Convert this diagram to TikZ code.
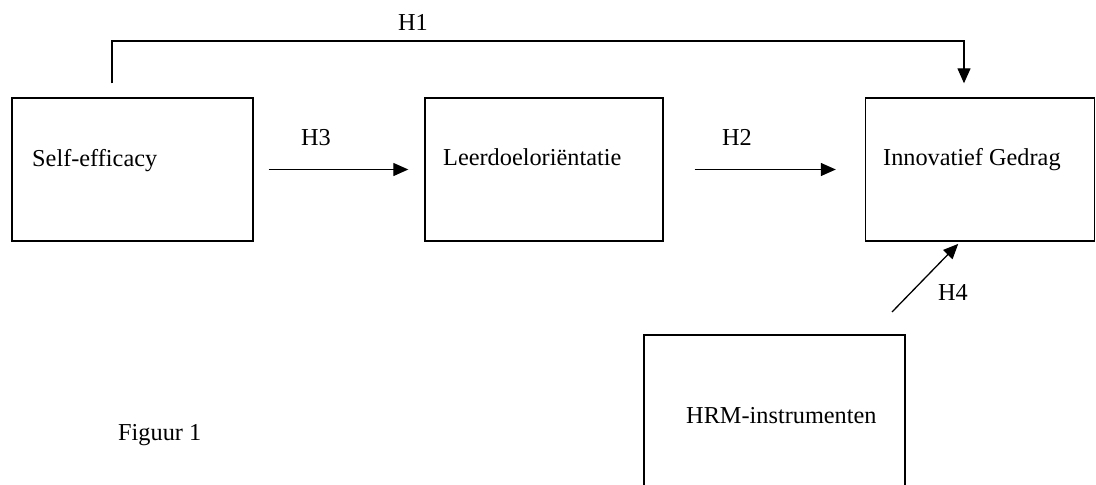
\documentclass[tikz,border=0pt]{standalone}
\usepackage{fontspec}
\setmainfont{Liberation Serif}
\usetikzlibrary{arrows.meta}
\begin{document}
\begin{tikzpicture}[x=1pt,y=-1pt,
  box/.style={draw,line width=1.4pt,inner sep=0pt},
  lbl/.style={anchor=base west,inner sep=0pt,font=\fontsize{24.3}{28}\selectfont},
  hlbl/.style={anchor=base,inner sep=0pt,font=\fontsize{24.3}{28}\selectfont},
  conn/.style={line width=1.3pt,-{Triangle[length=15pt,width=13pt]}}]
\useasboundingbox (0,0) rectangle (1096,485);
\clip (0,0) rectangle (1096,485);
% boxes
\node[box,minimum width=241pt,minimum height=143pt] (b1) at (132.5,169.5) {};
\node[box,minimum width=238pt,minimum height=143pt] (b2) at (544,169.5) {};
\node[box,minimum width=229pt,minimum height=143pt] (b3) at (980,169.5) {};
\node[box,minimum width=261pt,minimum height=200pt] (b4) at (774.5,435) {};
% texts
\node[lbl] (t1) at (32,166) {Self-efficacy};
\node[lbl] (t2) at (443,165) {Leerdoeloriëntatie};
\node[lbl] (t3) at (883,165) {Innovatief Gedrag};
\node[lbl] (t4) at (686,423) {HRM-instrumenten};
\node[lbl] (fig) at (118,440) {Figuur 1};
% hypothesis labels
\node[hlbl] (h1) at (413,30) {H1};
\node[hlbl] (h3) at (316,145) {H3};
\node[hlbl] (h2) at (737,145) {H2};
\node[hlbl] (h4) at (953,300) {H4};
% connectors
\coordinate (h1a) at (112,41);
\coordinate (h1b) at (964,41);
\draw[conn,shorten <=14pt,shorten >=14pt] (b1.north -| h1a) -- (h1a) -- (h1b) -- (b3.north -| h1b);
\draw[conn,shorten <=15pt,shorten >=16pt] (b1.east) -- (b2.west);
\draw[conn,shorten <=31pt,shorten >=29pt] (b2.east) -- (b3.west);
\coordinate (h4s) at (892,312);
\coordinate (h4e) at (961,241);
\draw[conn,shorten >=4pt] (h4s) -- (h4e);
\end{tikzpicture}
\end{document}
